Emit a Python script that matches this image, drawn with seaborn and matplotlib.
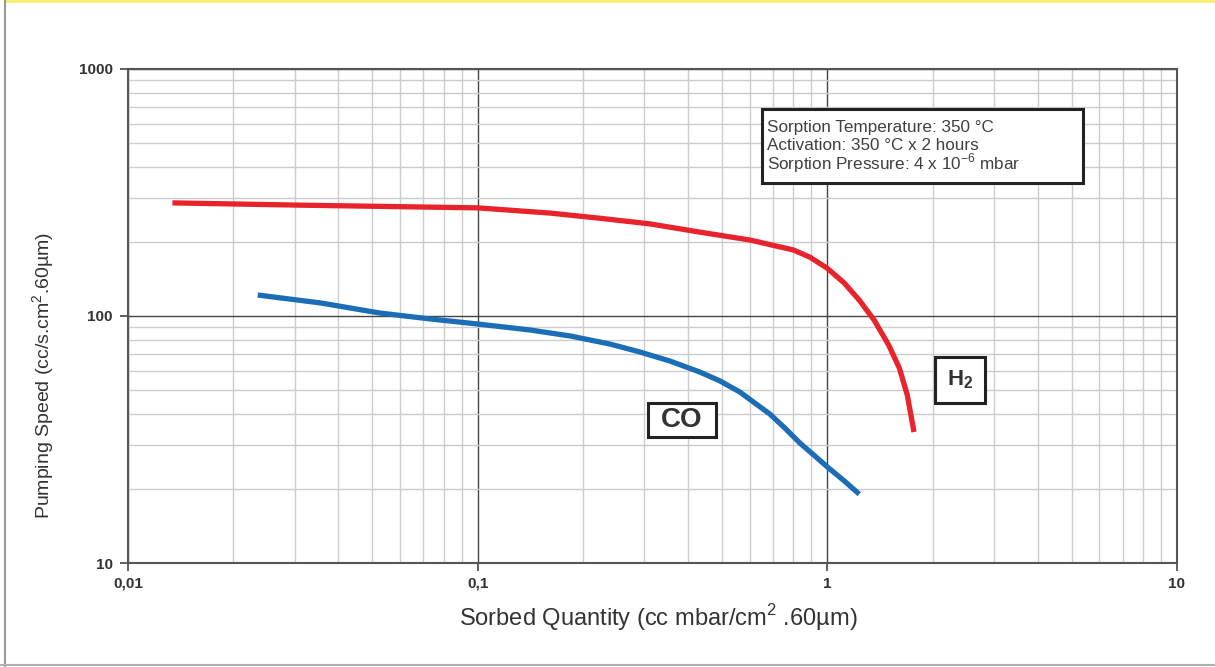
"""
Pumping speed vs sorbed quantity for H2 and CO (getter sorption curves).
Saves out.png at 1215x667.
"""
import matplotlib.pyplot as plt
import numpy as np
import pandas as pd
import seaborn as sns
from matplotlib.lines import Line2D
from matplotlib.patches import Rectangle
from matplotlib.ticker import FixedLocator, LogLocator, NullFormatter

# ── Data ─────────────────────────────────────────────────────────────────────
h2_quantity = [0.0134, 0.031, 0.1, 0.161, 0.222, 0.311, 0.428, 0.601, 0.80,
               0.892, 1.0, 1.118, 1.234, 1.363, 1.50, 1.607, 1.693, 1.77]
h2_speed    = [287, 281, 274, 261, 249, 236, 219, 203, 185,
               173, 156, 136, 116, 96, 76, 61.6, 47.9, 33.9]

co_quantity = [0.0235, 0.0356, 0.0525, 0.0731, 0.1, 0.141, 0.184, 0.239, 0.291,
               0.355, 0.432, 0.493, 0.5625, 0.621, 0.685, 0.756, 0.835, 0.922,
               1.0, 1.118, 1.234]
co_speed    = [121.6, 112.9, 102.8, 97.3, 92.8, 87.8, 83.0, 77.0, 71.5,
               65.7, 59.3, 54.6, 49.2, 44.4, 40.1, 35.2, 30.6, 27.1,
               24.5, 21.5, 19.0]

x_ticks       = [0.01, 0.1, 1, 10]
x_tick_labels = ["0,01", "0,1", "1", "10"]
y_ticks       = [10, 100, 1000]
y_tick_labels = ["10", "100", "1000"]

conditions = [
    "Sorption Temperature: 350 °C",
    "Activation: 350 °C x 2 hours",
    "Sorption Pressure: 4 x 10$^{-6}$ mbar",
]

RED  = "#e8232b"
BLUE = "#1b6db5"
DARK = "#333333"

df = pd.concat([
    pd.DataFrame({"quantity": h2_quantity, "speed": h2_speed, "gas": "H2"}),
    pd.DataFrame({"quantity": co_quantity, "speed": co_speed, "gas": "CO"}),
])

sns.set_theme(style="white")
plt.rcParams["font.family"] = ["Liberation Sans", "DejaVu Sans"]
plt.rcParams["mathtext.fontset"] = "custom"
plt.rcParams["mathtext.rm"] = "Liberation Sans"
plt.rcParams["mathtext.bf"] = "Liberation Sans:bold"

fig = plt.figure(figsize=(12.15, 6.67), dpi=100)
ax = fig.add_axes([0.1053, 0.1559, 0.8634, 0.7407])

sns.lineplot(
    data=df, x="quantity", y="speed", hue="gas",
    palette={"H2": RED, "CO": BLUE},
    estimator=None, sort=False, linewidth=3.8, legend=False, ax=ax,
)
for ln in ax.get_lines():
    ln.set_solid_capstyle("butt")
    ln.set_solid_joinstyle("round")

ax.set_xscale("log")
ax.set_yscale("log")
ax.set_xlim(0.01, 10)
ax.set_ylim(10, 1000)

# ── Grid: dark decades, light sub-decades ────────────────────────────────────
ax.xaxis.set_major_locator(FixedLocator(x_ticks))
ax.yaxis.set_major_locator(FixedLocator(y_ticks))
ax.xaxis.set_minor_locator(LogLocator(base=10, subs=np.arange(2, 10)))
ax.yaxis.set_minor_locator(LogLocator(base=10, subs=np.arange(2, 10)))
ax.xaxis.set_minor_formatter(NullFormatter())
ax.yaxis.set_minor_formatter(NullFormatter())
ax.grid(which="major", color="#444444", linewidth=1.0)
ax.grid(which="minor", color="#cccccc", linewidth=1.0)
ax.set_axisbelow(True)

ax.set_xticklabels(x_tick_labels, fontsize=11, fontweight="bold", color=DARK)
ax.set_yticklabels(y_tick_labels, fontsize=11, fontweight="bold", color=DARK)
ax.tick_params(which="major", direction="out", length=6, width=1.2, color="#444444",
               bottom=True, left=True)
ax.tick_params(axis="x", which="major", pad=4)
ax.tick_params(axis="y", which="major", pad=5)
ax.tick_params(which="minor", length=0)

for side in ax.spines.values():
    side.set_color("#555555")
    side.set_linewidth(1.5)

ax.set_xlabel("Sorbed Quantity (cc mbar/cm$^2$ .60µm)", fontsize=17, color=DARK)
ax.set_ylabel("Pumping Speed (cc/s.cm$^2$.60µm)", fontsize=14, color=DARK)
ax.xaxis.set_label_coords(0.506, -0.080)
ax.yaxis.set_label_coords(-0.068, 0.38)

# ── Boxes: conditions, H2 label, CO label (axes fractions) ───────────────────
frames = [
    (0.6044, 0.769, 0.306, 0.150),
    (0.7693, 0.3239, 0.0477, 0.0931),
    (0.4957, 0.255, 0.0648, 0.0688),
]
for x0, y0, w, h in frames:
    ax.add_patch(Rectangle((x0, y0), w, h, transform=ax.transAxes,
                           facecolor="white", edgecolor="#222222", linewidth=2.2, zorder=5))

for i, line in enumerate(conditions):
    ax.text(0.6095, 0.882 - i * 0.0365, line, transform=ax.transAxes,
            fontsize=12.3, color="#404040", va="center", ha="left", zorder=6)

ax.text(0.793, 0.372, r"$\mathbf{H_2}$", transform=ax.transAxes, fontsize=16,
        color=DARK, ha="center", va="center", zorder=6)
ax.text(0.528, 0.2895, "CO", transform=ax.transAxes, fontsize=20, fontweight="bold",
        color=DARK, ha="center", va="center", zorder=6)

# ── Page frame ───────────────────────────────────────────────────────────────
fig.add_artist(Line2D([0.0045, 1.0], [0.999, 0.999], transform=fig.transFigure,
                      color="#f7f06a", linewidth=2))
fig.add_artist(Line2D([0.0045, 0.0045], [0.0, 1.0], transform=fig.transFigure,
                      color="#9a9a9a", linewidth=1.5))
fig.add_artist(Line2D([0.0, 1.0], [0.003, 0.003], transform=fig.transFigure,
                      color="#b0b0b0", linewidth=1.5))

fig.savefig("out.png", dpi=100, facecolor="white")
plt.close(fig)
